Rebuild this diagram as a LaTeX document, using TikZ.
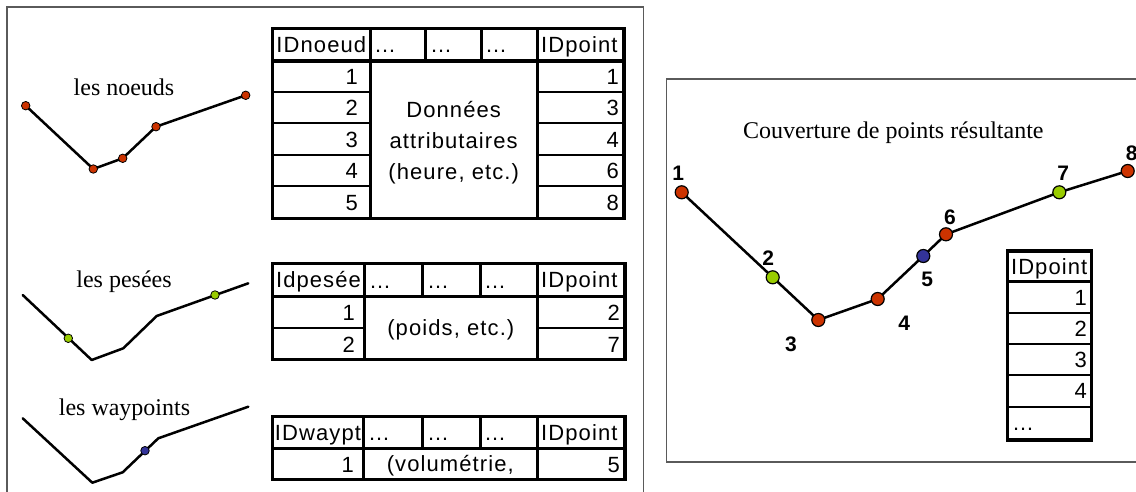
\documentclass[tikz,border=0pt]{standalone}
\usepackage{fontspec}
\setmainfont{Liberation Serif}
\newfontfamily\tabfont[LetterSpace=5]{Liberation Sans}
\newfontfamily\numfont{Liberation Sans}
\definecolor{ptred}{RGB}{204,51,0}
\definecolor{ptgreen}{RGB}{153,204,0}
\definecolor{ptblue}{RGB}{51,51,153}
\definecolor{panelgray}{RGB}{90,90,90}
\tikzset{
  panel/.style={draw=panelgray, line width=1.5pt},
  track/.style={line width=2.5pt, line join=round, line cap=round},
  sdot/.style={circle, draw=black, line width=0.8pt, inner sep=0pt, minimum size=8.5pt},
  bdot/.style={circle, draw=black, line width=1.2pt, inner sep=0pt, minimum size=13pt},
  title/.style={font=\fontsize{24}{28}\selectfont, inner sep=0pt, text height=16pt, text depth=0pt},
  cell/.style={font=\tabfont\fontsize{22}{26}\selectfont, inner sep=0pt, text height=15.5pt, text depth=0pt},
  num/.style={font=\numfont\fontsize{22}{26}\selectfont, inner sep=0pt, text height=15.5pt, text depth=0pt},
  dots/.style={font=\tabfont\fontsize{22}{26}\selectfont, inner sep=0pt, anchor=base west},
  lbl/.style={font=\numfont\bfseries\fontsize{21}{25}\selectfont, inner sep=0pt, text height=15pt, text depth=0pt},
  outer/.style={line width=3.5pt},
  divider/.style={line width=3pt},
  rowrule/.style={line width=2pt},
}
\begin{document}
\begin{tikzpicture}[x=1pt, y=-1pt]
\useasboundingbox (0,0) rectangle (1136,492);
\clip (0,0) rectangle (1136,492);

% ---------- panels ----------
\draw[panel] (7,7) rectangle (643.7,520);
\draw[panel] (666.7,79) rectangle (1150,462);

% ---------- les noeuds ----------
\node[title] (tnoeuds) at (124,88) {les noeuds};
\coordinate (n1) at (25.7,105.7);
\coordinate (n2) at (93.3,169);
\coordinate (n3) at (122.7,158.3);
\coordinate (n4) at (156,126.7);
\coordinate (n5) at (245.7,95.3);
\draw[track] (n1) -- (n2) -- (n3) -- (n4) -- (n5);
\foreach \p in {n1,n2,n3,n4,n5} \node[sdot, fill=ptred] (d\p) at (\p) {};

% ---------- les pesées ----------
\node[title] (tpesees) at (124,279) {les pesées};
\coordinate (p1) at (22.7,295);
\coordinate (p2) at (91.7,360);
\coordinate (p3) at (123.3,348.3);
\coordinate (p4) at (156.7,316);
\coordinate (p5) at (248.3,283.3);
\draw[track] (p1) -- (p2) -- (p3) -- (p4) -- (p5);
\node[sdot, fill=ptgreen] (pa) at (68.3,338.3) {};
\node[sdot, fill=ptgreen] (pb) at (215,295) {};

% ---------- les waypoints ----------
\node[title] (twaypoints) at (124.5,407.5) {les waypoints};
\coordinate (w1) at (22.7,418.3);
\coordinate (w2) at (92.3,482.7);
\coordinate (w3) at (122.7,472.3);
\coordinate (w4) at (158.3,438.3);
\coordinate (w5) at (248.3,406.7);
\draw[track] (w1) -- (w2) -- (w3) -- (w4) -- (w5);
\node[sdot, fill=ptblue] (wa) at (145,450.7) {};

% ---------- table noeuds ----------
\foreach \y in {91.7,123.3,155,185.7}
  \draw[rowrule] (272.7,\y) -- (370,\y) (537.3,\y) -- (624,\y);
\draw[divider] (370,28.3) -- (370,218.3) (537.3,28.3) -- (537.3,218.3)
  (425.7,28.3) -- (425.7,61) (481,28.3) -- (481,61);
\draw[outer] (272.7,61) -- (624,61);
\draw[outer] (272.7,28.3) rectangle (624,218.3);
\node[cell] (h1a) at (321.3,44.7) {IDnoeud};
\node[dots] (h1b) at (374,52.5) {…};
\node[dots] (h1c) at (430,52.5) {…};
\node[dots] (h1d) at (485,52.5) {…};
\node[cell, anchor=west] (h1e) at (541,44.7) {IDpoint};
\foreach \y/\a/\b in {76.8/1/1,108/2/3,139.7/3/4,170.8/4/6,202.5/5/8}{
  \node[num, anchor=east] at (358,\y) {\a};
  \node[num, anchor=east] at (619,\y) {\b};
}
\node[cell] (m1a) at (453.7,109.5) {Données};
\node[cell] (m1b) at (453.7,140.5) {attributaires};
\node[cell] (m1c) at (453.7,171.5) {(heure, etc.)};

% ---------- table pesées ----------
\draw[rowrule] (272.7,328.3) -- (364.3,328.3) (537.3,328.3) -- (625,328.3);
\draw[divider] (364.3,263.3) -- (364.3,359.3) (537.3,263.3) -- (537.3,359.3)
  (422.3,263.3) -- (422.3,296.7) (480,263.3) -- (480,296.7);
\draw[outer] (272.7,296.7) -- (625,296.7);
\draw[outer] (272.7,263.3) rectangle (625,359.3);
\node[cell] (h2a) at (318.5,280) {Idpesée};
\node[dots] (h2b) at (369,288) {…};
\node[dots] (h2c) at (427,288) {…};
\node[dots] (h2d) at (484,288) {…};
\node[cell, anchor=west] (h2e) at (541,280) {IDpoint};
\node[num, anchor=east] at (355,313) {1};
\node[num, anchor=east] at (355,344.3) {2};
\node[num, anchor=east] at (620,313) {2};
\node[num, anchor=east] at (620,344.3) {7};
\node[cell] (m2) at (450.8,328) {(poids, etc.)};

% ---------- table waypoints ----------
\draw[divider] (363.3,416.7) -- (363.3,479.3) (537.3,416.7) -- (537.3,479.3)
  (422.3,416.7) -- (422.3,448.3) (480,416.7) -- (480,448.3);
\draw[outer] (272.7,448.3) -- (625,448.3);
\draw[outer] (272.7,416.7) rectangle (625,479.3);
\node[cell] (h3a) at (318,432.5) {IDwaypt};
\node[dots] (h3b) at (368,440.5) {…};
\node[dots] (h3c) at (427,440.5) {…};
\node[dots] (h3d) at (484,440.5) {…};
\node[cell, anchor=west] (h3e) at (541,432.5) {IDpoint};
\node[num, anchor=east] at (354,464.3) {1};
\node[num, anchor=east] at (620,464.3) {5};
\node[cell] (m3) at (450.3,464) {(volumétrie,};

% ---------- couverture résultante ----------
\node[title] (tcouv) at (893.3,130.3) {Couverture de points résultante};
\coordinate (c1) at (681.7,192.3);
\coordinate (c2) at (772.7,277.3);
\coordinate (c3) at (818.3,320);
\coordinate (c4) at (877.7,299);
\coordinate (c5) at (923.3,256);
\coordinate (c6) at (946,234.3);
\coordinate (c7) at (1059.3,192.3);
\coordinate (c8) at (1127.7,171);
\draw[track] (c1) -- (c2) -- (c3) -- (c4) -- (c5) -- (c6) -- (c7) -- (c8);
\foreach \p/\c in {c1/ptred,c2/ptgreen,c3/ptred,c4/ptred,c5/ptblue,c6/ptred,c7/ptgreen,c8/ptred}
  \node[bdot, fill=\c] (d\p) at (\p) {};
\node[lbl] (l1) at (678.3,173.3) {1};
\node[lbl] (l2) at (768.3,258.3) {2};
\node[lbl] (l3) at (791,344) {3};
\node[lbl] (l4) at (904.3,323.3) {4};
\node[lbl] (l5) at (927.3,279.3) {5};
\node[lbl] (l6) at (950,216.7) {6};
\node[lbl] (l7) at (1063.3,173.3) {7};
\node[lbl] (l8) at (1131.7,153.3) {8};

% ---------- table IDpoint ----------
\foreach \y in {313.3,344.3,375,406.7}
  \draw[rowrule] (1007.7,\y) -- (1091.7,\y);
\draw[divider] (1007.7,281.7) -- (1091.7,281.7);
\draw[outer] (1007.7,251) rectangle (1091.7,440);
\node[cell] (h4) at (1049.2,266.4) {IDpoint};
\foreach \y/\a in {297.8/1,329.1/2,360/3,391.2/4}
  \node[num, anchor=east] at (1087,\y) {\a};
\node[dots] (h4b) at (1012,430) {…};
\end{tikzpicture}
\end{document}
